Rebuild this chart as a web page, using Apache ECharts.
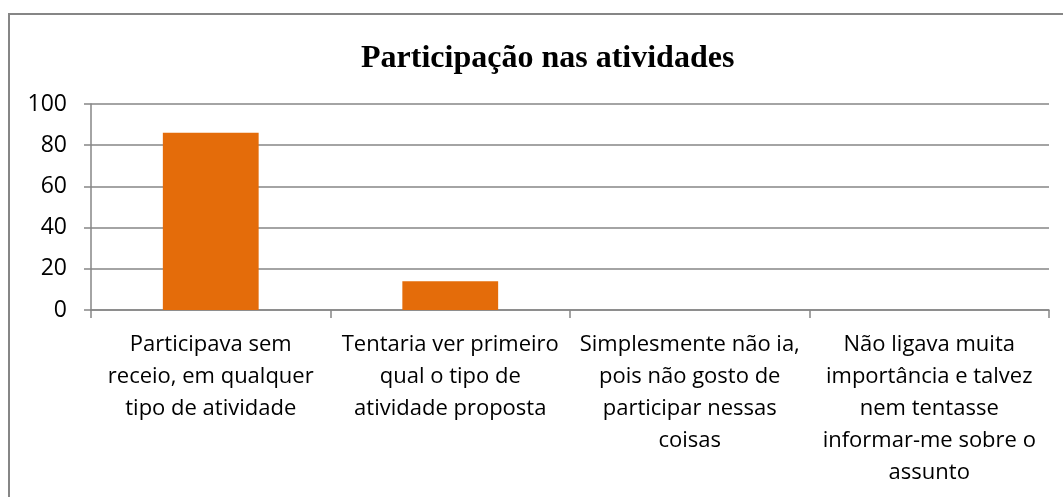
<!DOCTYPE html>
<html>
<head>
<meta charset="utf-8">
<script src="https://cdn.jsdelivr.net/npm/echarts@6/dist/echarts.min.js"></script>
<style>
  html, body { margin: 0; padding: 0; background: #fff; }
  #chart { width: 1063px; height: 497px; }
</style>
</head>
<body>
<div id="chart"></div>
<script>
const categories = [
  'Participava sem\nreceio, em qualquer\ntipo de atividade',
  'Tentaria ver primeiro\nqual o tipo de\natividade proposta',
  'Simplesmente não ia,\npois não gosto de\nparticipar nessas\ncoisas',
  'Não ligava muita\nimportância e talvez\nnem tentasse\ninformar-me sobre o\nassunto'
]
const values = [86, 14, 0, 0]
const yTicks = { min: 0, max: 100, interval: 20 }

const chart = echarts.init(document.getElementById('chart'))
const gray = '#868686'
const option = {
  animation: false,
  title: {
    text: 'Participação nas atividades',
    left: 356,
    top: 38,
    textStyle: {
      fontFamily: 'Liberation Serif',
      fontWeight: 'bold',
      fontSize: 32,
      color: '#000'
    }
  },
  // moldura do gráfico, cortada à direita e em baixo
  graphic: [
    {
      type: 'rect',
      shape: { x: 9, y: 14, width: 1200, height: 700 },
      style: { fill: 'none', stroke: gray, lineWidth: 2 }
    }
  ],
  grid: {
    left: 91,
    right: 14,
    top: 104,
    bottom: 187
  },
  xAxis: {
    type: 'category',
    data: categories,
    axisLine: { lineStyle: { color: gray, width: 1.5 } },
    axisTick: { show: true, length: 8, lineStyle: { color: gray, width: 1.5 } },
    axisLabel: {
      interval: 0,
      margin: 19,
      color: '#000',
      fontFamily: 'Open Sans',
      fontSize: 22,
      lineHeight: 32
    }
  },
  yAxis: {
    type: 'value',
    min: yTicks.min,
    max: yTicks.max,
    interval: yTicks.interval,
    axisLine: { show: true, lineStyle: { color: gray, width: 1.5 } },
    axisTick: { show: true, length: 7, lineStyle: { color: gray, width: 1.5 } },
    splitLine: { lineStyle: { color: gray, width: 1.5 } },
    axisLabel: {
      margin: 24,
      color: '#000',
      fontFamily: 'Open Sans',
      fontSize: 23
    }
  },
  series: [
    {
      type: 'bar',
      data: values,
      barWidth: '40%',
      itemStyle: { color: '#E46C0A' }
    }
  ]
}
chart.setOption(option)
</script>
</body>
</html>
